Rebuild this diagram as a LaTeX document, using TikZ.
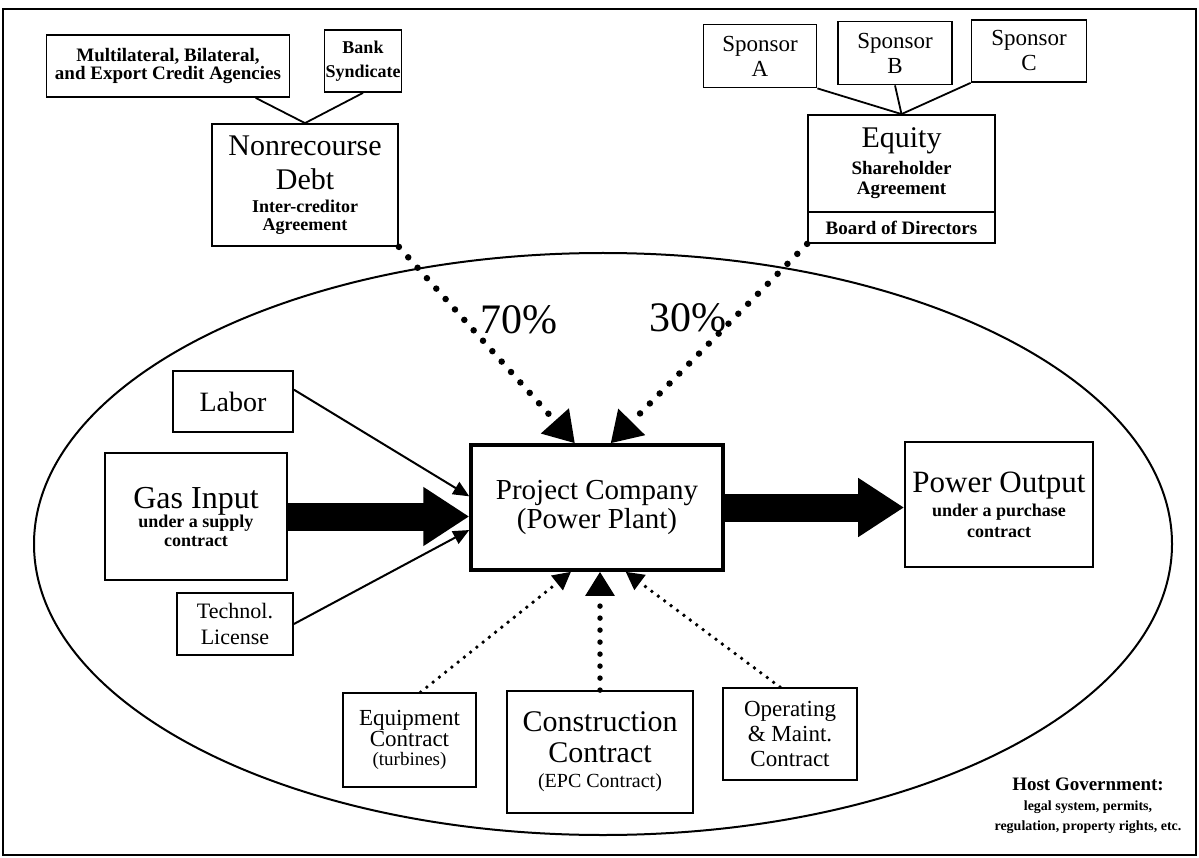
\documentclass[tikz,border=0pt]{standalone}
\usepackage{fontspec}
\setmainfont{Liberation Serif}
\usetikzlibrary{arrows.meta}
\newcommand{\txtsize}[2]{\fontsize{#1}{#2}\selectfont}
\newcommand{\subtxt}{\bfseries\txtsize{18}{19}}
\setlength{\lineskiplimit}{-100pt}

\begin{document}
\begin{tikzpicture}[x=1pt,y=-1pt,
	box/.style={draw,line width=1.8pt,align=center,inner sep=1pt},
	link/.style={line width=1.8pt},
	bigdots/.style={line width=6.5pt,line cap=round,dash pattern=on 0pt off 14pt,
		-{Triangle[length=30pt,width=36pt]}},
	middots/.style={line width=5.5pt,line cap=round,dash pattern=on 0pt off 12pt,
		-{Triangle[length=24pt,width=28pt]}},
	smalldots/.style={line width=3.8pt,line cap=round,dash pattern=on 0pt off 8pt,
		-{Triangle[length=18pt,width=18pt]}},
	feed/.style={line width=2pt,-{Triangle[length=16pt,width=14pt]}},
	flow/.style={line width=28pt,-{Triangle[length=46pt,width=56pt]}}]
\useasboundingbox (0,0) rectangle (1199,858);
\draw[line width=2.2pt] (3,9) rectangle (1196,855);
\draw[line width=2pt] (603,544) ellipse [x radius=569, y radius=291];

% lenders
\node[box,minimum width=243pt,minimum height=62pt,font=\bfseries\txtsize{19}{18}] (multi) at (168,66)
	{Multilateral, Bilateral,\\and Export Credit Agencies};
\node[box,minimum width=76pt,minimum height=62pt,font=\bfseries\txtsize{18}{24}] (bank) at (363,61)
	{Bank\\Syndicate};
\node[box,minimum width=186pt,minimum height=122pt,font=\txtsize{30}{18}] (debt) at (305,185)
	{Nonrecourse\\[16pt]Debt\\[5pt]\subtxt Inter-creditor\\\subtxt Agreement};
\draw[link] (multi.-20) -- (debt.north);
\draw[link] (bank.south) -- (debt.north);

% sponsors
\node[box,minimum width=113pt,minimum height=63pt,font=\txtsize{23}{25}] (spa) at (760,56) {Sponsor\\A};
\node[box,minimum width=114pt,minimum height=63pt,font=\txtsize{23}{25}] (spb) at (895,53) {Sponsor\\B};
\node[box,minimum width=115pt,minimum height=62pt,font=\txtsize{23}{25}] (spc) at (1029,51) {Sponsor\\C};
\node[box,minimum width=187pt,minimum height=97pt,font=\txtsize{30}{20}] (equity) at (901.5,163.5)
	{Equity\\[7pt]\bfseries\txtsize{19}{20}Shareholder\\\bfseries\txtsize{19}{20}Agreement};
\node[box,minimum width=187pt,minimum height=31pt,font=\bfseries\txtsize{19}{20}] (board) at (901.5,227.5)
	{Board of Directors};
\draw[link] (spa.south east) -- (equity.north);
\draw[link] (spb.south) -- (equity.north);
\draw[link] (spc.south west) -- (equity.north);

% project
\node[box,line width=3.5pt,minimum width=252pt,minimum height=125pt,font=\txtsize{29}{29}] (pc) at (597,507.5)
	{Project Company\\(Power Plant)};
\node[font=\txtsize{42}{42}] (debtshare) at (519,320) {70\%};
\node[font=\txtsize{42}{42}] (eqshare) at (688,318) {30\%};
\draw[bigdots] (debt.south east) -- (pc.109);
\draw[bigdots] (board.south west) -- (pc.78);

% inputs
\node[box,minimum width=120pt,minimum height=61pt,font=\txtsize{28}{28}] (labor) at (233,401.5) {Labor};
\node[box,minimum width=182pt,minimum height=127pt,font=\txtsize{32}{19}] (gas) at (196,516.5)
	{Gas Input\\\subtxt under a supply\\\subtxt contract};
\node[box,minimum width=116pt,minimum height=62pt,font=\txtsize{22}{26}] (tech) at (235,624) {Technol.\\License};
\draw[feed] (labor.11) -- (pc.175);
\draw[feed] (tech.east) -- (pc.-170);
\draw[flow] (gas.east) -- (gas.east -| pc.west);

% output
\node[box,minimum width=188pt,minimum height=125pt,font=\txtsize{31}{21}] (power) at (999,504.5)
	{Power Output\\[3pt]\subtxt under a purchase\\\subtxt contract};
\draw[flow] (pc.east) -- (pc.east -| power.west);

% contracts
\node[box,minimum width=133pt,minimum height=94pt,font=\txtsize{23}{19}] (equip) at (409.5,740)
	{Equipment\\[2pt]Contract\\\txtsize{19}{19}(turbines)};
\node[box,minimum width=186pt,minimum height=122pt,font=\txtsize{30}{25}] (constr) at (600,752)
	{Construction\\[6pt]Contract\\\txtsize{20}{25}(EPC Contract)};
\node[box,minimum width=134pt,minimum height=92pt,font=\txtsize{23}{25}] (om) at (790,734)
	{Operating\\\& Maint.\\Contract};
\draw[smalldots] (equip.77) -- (pc.-112);
\draw[middots] (constr.north) -- (constr.north |- pc.south);
\draw[smalldots] (om.102) -- (pc.-66);

\node[align=center,font=\bfseries\txtsize{19}{20}] (host) at (1088,806)
	{Host Government:\\\bfseries\txtsize{14}{20}legal system, permits,\\\bfseries\txtsize{14}{18}regulation, property rights, etc.};
\end{tikzpicture}
\end{document}
